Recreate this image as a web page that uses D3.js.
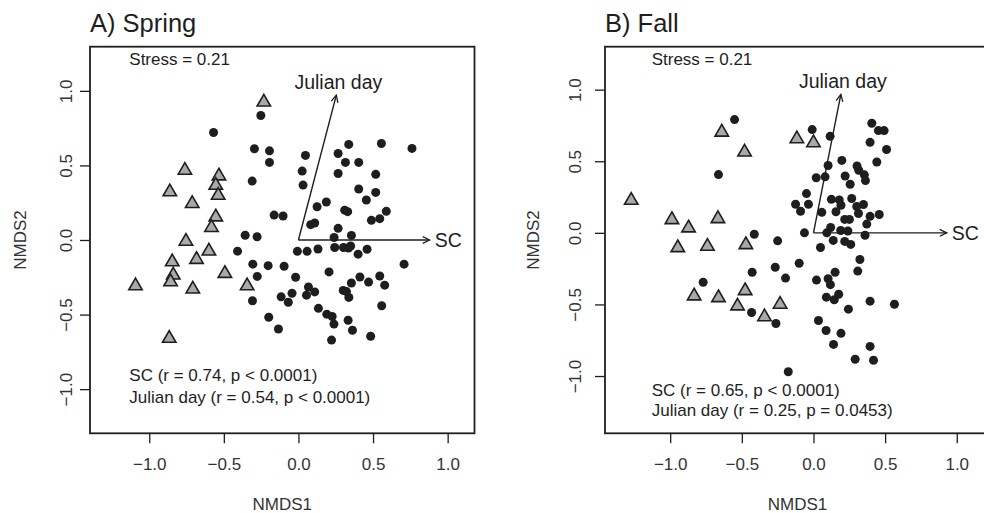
<!DOCTYPE html>
<html lang="en">
<head>
    <meta charset="UTF-8">
    <title>NMDS Spring / Fall</title>
    <script src="https://d3js.org/d3.v7.min.js"></script>
    <style>
        body{
            margin: 0;
            background: white;
        }
        svg{
            display: block;
            font-family: "Liberation Sans", Arial, sans-serif;
        }
    </style>
</head>
<body>
<svg width="984" height="513"></svg>
<script>

    // ---- data ----
    let springCircleX = [-0.252,-0.569,-0.295,-0.194,-0.194,-0.310,0.047,0.025,0.031,0.337,0.556,0.761,0.266,0.315,0.404,0.266,0.518,0.404,0.518,0.455,
        0.187,0.125,0.310,0.330,0.589,0.545,0.489,-0.163,-0.103,0.082,0.109,0.266,-0.357,-0.277,0.239,0.355,-0.408,-0.007,0.058,0.131,
        0.243,0.302,0.335,0.350,0.400,0.460,0.708,-0.306,-0.203,-0.096,-0.276,-0.019,0.205,0.412,0.355,0.470,0.545,0.578,0.067,0.054,
        0.109,0.300,0.322,0.338,-0.043,-0.116,-0.068,-0.308,0.134,0.190,0.226,0.238,0.333,0.362,-0.199,-0.134,0.222,0.484,0.558]
    let springCircleY = [0.835,0.721,0.612,0.598,0.520,0.395,0.567,0.462,0.368,0.641,0.647,0.614,0.580,0.520,0.520,0.446,0.440,0.342,0.319,0.268,
        0.255,0.223,0.200,0.190,0.192,0.143,0.132,0.167,0.161,0.103,0.114,0.078,0.032,0.022,0.017,0.031,-0.075,-0.076,-0.076,-0.060,
        -0.050,-0.050,-0.054,-0.040,-0.095,-0.062,-0.162,-0.162,-0.172,-0.176,-0.244,-0.250,-0.214,-0.248,-0.288,-0.282,-0.241,-0.303,-0.315,-0.370,
        -0.348,-0.338,-0.346,-0.385,-0.357,-0.381,-0.417,-0.407,-0.458,-0.497,-0.513,-0.564,-0.538,-0.605,-0.518,-0.597,-0.671,-0.645,-0.441]
    let springTriX = [-0.232,-0.761,-0.862,-0.533,-0.554,-0.538,-0.712,-0.554,-0.583,-0.754,-0.600,-0.683,-0.846,-0.839,-0.857,-0.493,-1.092,-0.708,-0.344,-0.866]
    let springTriY = [0.937,0.480,0.335,0.442,0.379,0.312,0.257,0.167,0.096,0.004,-0.062,-0.118,-0.134,-0.223,-0.268,-0.212,-0.295,-0.317,-0.295,-0.647]

    let fallCircleX = [-0.551,-0.663,-0.009,0.116,0.407,0.453,0.493,0.395,0.510,0.442,0.198,0.102,0.304,0.316,0.221,0.355,0.363,0.019,0.081,0.256,
        -0.049,-0.125,-0.090,-0.035,0.125,0.180,0.192,0.267,0.302,0.349,0.314,0.157,0.058,0.218,0.251,0.395,0.459,0.372,0.120,0.093,
        0.190,0.240,0.360,-0.063,0.138,0.218,0.260,0.049,-0.413,-0.250,0.324,0.309,-0.100,-0.428,-0.267,-0.195,-0.770,0.021,0.102,0.118,
        0.151,0.090,0.145,0.176,0.395,0.565,0.244,-0.432,-0.262,0.035,0.088,0.192,0.140,0.395,0.291,0.419,-0.176]
    let fallCircleY = [0.791,0.407,0.721,0.674,0.765,0.714,0.714,0.632,0.582,0.495,0.506,0.470,0.467,0.437,0.397,0.405,0.365,0.385,0.391,0.339,
        0.274,0.200,0.151,0.200,0.234,0.230,0.193,0.240,0.184,0.198,0.135,0.147,0.143,0.094,0.094,0.115,0.128,0.061,0.037,0.000,
        0.016,0.013,-0.017,0.000,-0.053,-0.060,-0.081,-0.102,-0.010,-0.056,-0.186,-0.267,-0.212,-0.275,-0.240,-0.316,-0.345,-0.330,-0.321,-0.362,
        -0.275,-0.449,-0.467,-0.429,-0.477,-0.499,-0.533,-0.556,-0.633,-0.612,-0.682,-0.702,-0.779,-0.793,-0.883,-0.890,-0.970]
    let fallTriX = [-1.272,-0.640,-0.481,-0.116,0.000,-0.988,-0.872,-0.667,-0.947,-0.740,-0.472,-0.833,-0.663,-0.477,-0.530,-0.342,-0.233]
    let fallTriY = [0.240,0.716,0.577,0.670,0.642,0.105,0.047,0.112,-0.091,-0.081,-0.070,-0.428,-0.440,-0.391,-0.498,-0.574,-0.486]

    // fitted vectors (arrow tips)
    let vectorNames = ["SC", "Julian day"]
    let springVecX = [0.880, 0.254]
    let springVecY = [0.000, 0.971]
    let fallVecX = [0.930, 0.191]
    let fallVecY = [0.000, 0.967]

    let axisTicks = [-1.0, -0.5, 0.0, 0.5, 1.0]

    let springNotes = ["Stress = 0.21", "SC (r = 0.74, p < 0.0001)", "Julian day (r = 0.54, p < 0.0001)"]
    let fallNotes = ["Stress = 0.21", "SC (r = 0.65, p < 0.0001)", "Julian day (r = 0.25, p = 0.0453)"]

    // ---- layout ----
    let svg = d3.select('svg');
    let ink = '#1e1e1e';

    svg.append('defs').append('marker')
        .attr('id', 'head')
        .attr('markerUnits', 'userSpaceOnUse')
        .attr('viewBox', '-9 -5 10 10')
        .attr('markerWidth', 10).attr('markerHeight', 10)
        .attr('refX', 0).attr('refY', 0)
        .attr('orient', 'auto')
        .append('path')
        .attr('d', 'M-7,-3.4L0,0L-7,3.4')
        .attr('fill', 'none').attr('stroke', ink).attr('stroke-width', 1.3);

    let panels = [
        {title: "A) Spring", left: 90, right: 474.5, top: 46.7, bottom: 433.3,
            xDom: [-1.397, 1.18], yDom: [-1.296, 1.296],
            cx: springCircleX, cy: springCircleY, tx: springTriX, ty: springTriY,
            vx: springVecX, vy: springVecY, notes: springNotes,
            yLabX: 66, yTitleX: 20, noteX: 129.3, noteY: [59.3, 375, 396.7]},
        {title: "B) Fall", left: 605, right: 990, top: 46.7, bottom: 433.3,
            xDom: [-1.455, 1.232], yDom: [-1.4, 1.3],
            cx: fallCircleX, cy: fallCircleY, tx: fallTriX, ty: fallTriY,
            vx: fallVecX, vy: fallVecY, notes: fallNotes,
            yLabX: 575, yTitleX: 533, noteX: 651.7, noteY: [59.3, 390, 410]}
    ]

    let fmt = d3.format(".1f");
    let triSymbol = d3.symbol().type(d3.symbolTriangle).size(78);
    let triShift = 1.9; // R centres triangles on the bounding box, d3 on the centroid

    panels.forEach(function(p){
        let xScale = d3.scaleLinear().domain(p.xDom).range([p.left, p.right]);
        let yScale = d3.scaleLinear().domain(p.yDom).range([p.bottom, p.top]);
        let g = svg.append('g');

        // title
        g.append('text')
            .attr('x', p.left).attr('y', 32.3)
            .attr('font-size', 25.5).attr('fill', ink)
            .text(p.title);

        // x axis
        let xa = g.append('g')
            .attr('transform', 'translate(0,' + p.bottom + ')')
            .call(d3.axisBottom(xScale).tickValues(axisTicks).tickFormat(fmt)
                .tickSize(10).tickSizeOuter(0).tickPadding(15));
        xa.select('.domain').remove();
        xa.selectAll('line').attr('stroke', ink).attr('stroke-width', 1.3);
        xa.selectAll('text').attr('font-size', 17).attr('fill', '#333')
            .attr('font-family', '"Liberation Sans", Arial, sans-serif');

        // y axis
        let ya = g.append('g')
            .attr('transform', 'translate(' + p.left + ',0)')
            .call(d3.axisLeft(yScale).tickValues(axisTicks).tickFormat(fmt)
                .tickSize(10).tickSizeOuter(0));
        ya.select('.domain').remove();
        ya.selectAll('line').attr('stroke', ink).attr('stroke-width', 1.3);
        ya.selectAll('text').remove();
        ya.selectAll('.tick').append('text')
            .attr('transform', 'translate(' + (p.yLabX - p.left) + ',0) rotate(-90)')
            .attr('text-anchor', 'middle').attr('dy', '0.35em')
            .attr('font-size', 17).attr('fill', '#333')
            .attr('font-family', '"Liberation Sans", Arial, sans-serif')
            .text(function(d){ return fmt(d); });

        // axis titles
        g.append('text')
            .attr('x', (p.left + p.right) / 2).attr('y', 504)
            .attr('dy', '0.35em').attr('text-anchor', 'middle')
            .attr('font-size', 17).attr('fill', '#333')
            .text('NMDS1');
        g.append('text')
            .attr('transform', 'translate(' + p.yTitleX + ',' + (p.top + p.bottom) / 2 + ') rotate(-90)')
            .attr('dy', '0.35em').attr('text-anchor', 'middle')
            .attr('font-size', 17).attr('fill', '#333')
            .text('NMDS2');

        // frame
        g.append('rect')
            .attr('x', p.left).attr('y', p.top)
            .attr('width', p.right - p.left).attr('height', p.bottom - p.top)
            .attr('fill', 'none').attr('stroke', ink).attr('stroke-width', 1.8);

        // circles
        g.selectAll('circle.site')
            .data(d3.range(p.cx.length))
            .enter().append('circle')
            .attr('class', 'site')
            .attr('cx', function(i){ return xScale(p.cx[i]); })
            .attr('cy', function(i){ return yScale(p.cy[i]); })
            .attr('r', 4.5)
            .attr('fill', ink);

        // triangles
        g.selectAll('path.tri')
            .data(d3.range(p.tx.length))
            .enter().append('path')
            .attr('class', 'tri')
            .attr('d', triSymbol)
            .attr('transform', function(i){
                return 'translate(' + xScale(p.tx[i]) + ',' + (yScale(p.ty[i]) + triShift) + ')';
            })
            .attr('fill', '#a9a9a9').attr('stroke', ink).attr('stroke-width', 1.6)
            .attr('stroke-linejoin', 'miter');

        // vectors
        vectorNames.forEach(function(name, i){
            g.append('line')
                .attr('x1', xScale(0)).attr('y1', yScale(0))
                .attr('x2', xScale(p.vx[i])).attr('y2', yScale(p.vy[i]))
                .attr('stroke', ink).attr('stroke-width', 1.4)
                .attr('marker-end', 'url(#head)');
            let horizontal = Math.abs(p.vy[i]) < Math.abs(p.vx[i]);
            g.append('text')
                .attr('x', xScale(p.vx[i]) + (horizontal ? 5 : 2))
                .attr('y', yScale(p.vy[i]) - (horizontal ? 0 : 13))
                .attr('dy', '0.35em')
                .attr('text-anchor', horizontal ? 'start' : 'middle')
                .attr('font-size', 19.5).attr('fill', ink)
                .text(name);
        });

        // notes
        p.notes.forEach(function(t, i){
            g.append('text')
                .attr('x', p.noteX).attr('y', p.noteY[i])
                .attr('dy', '0.35em')
                .attr('font-size', 17).attr('fill', ink)
                .text(t);
        });
    })

</script>
</body>
</html>
